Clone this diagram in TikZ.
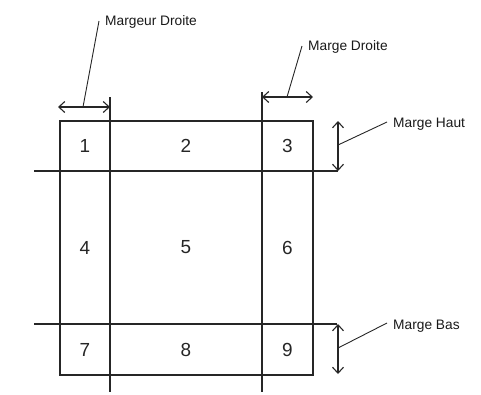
\documentclass[tikz,border=0pt]{standalone}
\usepackage{fontspec}
\setmainfont{Liberation Sans}
\usetikzlibrary{arrows.meta}
\begin{document}
\begin{tikzpicture}[x=1bp,y=-1bp,
  gridline/.style={line width=1.1bp,draw=black!85},
  dimarrow/.style={line width=1.1bp,draw=black!85,{Straight Barb[length=6bp,width=11bp]}-{Straight Barb[length=6bp,width=11bp]}},
  leader/.style={line width=0.9bp,draw=black!85},
  cell/.style={inner sep=0pt,font=\fontsize{19}{21}\selectfont,text=black!85},
  lab/.style={inner sep=0pt,anchor=base west,font=\fontsize{13.8}{16}\selectfont,text=black!90}]
\useasboundingbox (0,0) rectangle (481,394);
% outer box
\draw[gridline] (60,121) rectangle (313,375);
% vertical margin lines
\draw[gridline] (110,97) -- (110,392);
\draw[gridline] (262,92) -- (262,392);
% horizontal margin lines
\draw[gridline] (34,171) -- (338,171);
\draw[gridline] (34,324) -- (337,324);
% cells
\node[cell] (c1) at (85,146) {1};
\node[cell] (c2) at (186,146) {2};
\node[cell] (c3) at (287.5,146) {3};
\node[cell] (c4) at (85,247.5) {4};
\node[cell] (c5) at (186,247.5) {5};
\node[cell] (c6) at (287.5,247.5) {6};
\node[cell] (c7) at (85,349.5) {7};
\node[cell] (c8) at (186,349.5) {8};
\node[cell] (c9) at (287.5,349.5) {9};
% dimension arrows
\draw[dimarrow] (58,107) -- (110,107);
\draw[dimarrow] (262,97) -- (313,97);
\draw[dimarrow] (338,121) -- (338,171);
\draw[dimarrow] (338,324) -- (338,374);
% labels
\node[lab] (l1) at (105,25) {Margeur Droite};
\node[lab] (l2) at (308,50) {Marge Droite};
\node[lab] (l3) at (393,127) {Marge Haut};
\node[lab] (l4) at (393,329) {Marge Bas};
% leader ends
\coordinate (a1) at (83,107);
\coordinate (b1) at (99,21);
\coordinate (a2) at (287,97);
\coordinate (b2) at (302,46);
\coordinate (a3) at (338,145);
\coordinate (b3) at (387,122);
\coordinate (a4) at (338,348);
\coordinate (b4) at (387,323);
\draw[leader] (a1) -- (b1);
\draw[leader] (a2) -- (b2);
\draw[leader] (a3) -- (b3);
\draw[leader] (a4) -- (b4);
\end{tikzpicture}
\end{document}
